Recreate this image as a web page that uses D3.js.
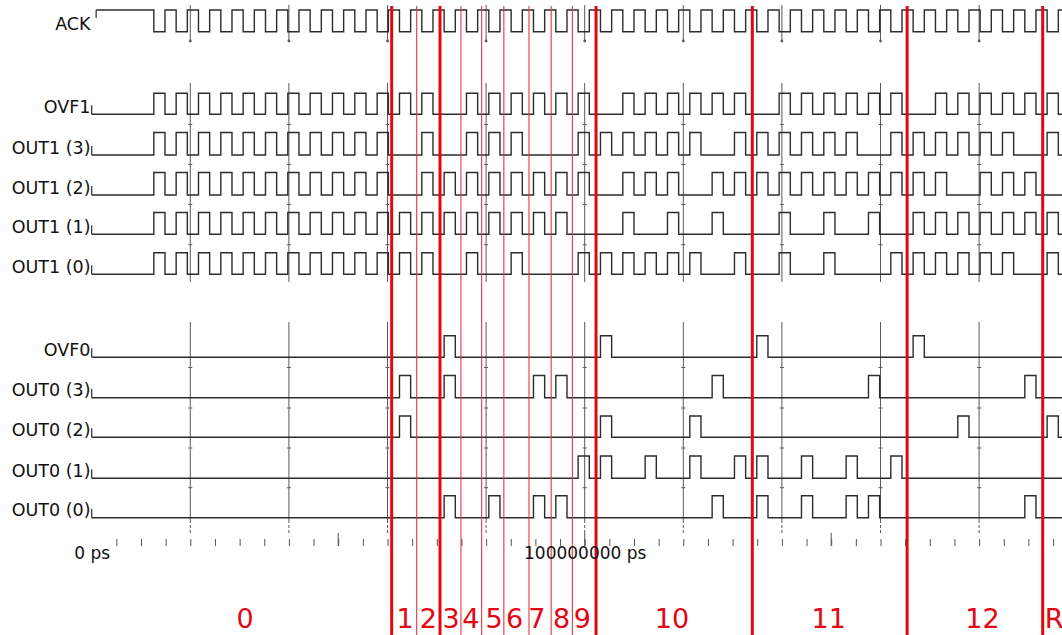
<!DOCTYPE html>
<html><head><meta charset="utf-8">
<script src="https://cdn.jsdelivr.net/npm/d3@7"></script>
<style>
html,body{margin:0;padding:0;background:#fff;}
svg{display:block;font-family:"DejaVu Sans",sans-serif;}
</style></head><body>
<svg id="chart" width="1062" height="635"></svg>
<script>
// ---------------- data ----------------
const signalNames = ["ACK","OVF1","OUT1 (3)","OUT1 (2)","OUT1 (1)","OUT1 (0)","OVF0","OUT0 (3)","OUT0 (2)","OUT0 (1)","OUT0 (0)"];
const clockStartUs = 12.6;     // first clock cycle (µs)
const clockPeriodUs = 4.53;    // clock period (µs)
const ackStartUs = 0.9;
// one character per clock cycle (cycles 0..40); '1' = pulse in that cycle
const ackCycles  = "11111111111111111111111111111111111111111";
const ovf1Cycles = "1111111111"+"1110111111"+"0111111011"+"1111011111"+"1";
const out13Cycles= "1111111111"+"1010111001"+"1111101111"+"1101111110"+"1";
const out12Cycles= "1111111111"+"1011111111"+"0111011111"+"1111110111"+"0";
const out11Cycles= "1111111111"+"1111111110"+"0101010010"+"1010111111"+"1";
const out10Cycles= "1111111111"+"1110101001"+"1111101010"+"1001111110"+"1";
const ovf0Cycles = "0000000000"+"0001000000"+"1000000100"+"0000100000"+"0";
const out03Cycles= "0000000000"+"0101000110"+"0000010000"+"0010000001"+"0";
const out02Cycles= "0000000000"+"0100000000"+"1000100000"+"0000001000"+"1";
const out01Cycles= "0000000000"+"0000000001"+"1010101101"+"0101000000"+"0";
const out00Cycles= "0000000000"+"0001010110"+"0000010101"+"0110000001"+"0";
const signalCycles = [ackCycles, ovf1Cycles, out13Cycles, out12Cycles, out11Cycles, out10Cycles,
                      ovf0Cycles, out03Cycles, out02Cycles, out01Cycles, out00Cycles];

const gridUs = [20,40,60,80,100,120,140,160,180];
const minorTickUs = d3.range(5, 200, 5);
const bigTickUs = [50,100,150];
const axisLabelUs = [0,100];

const markerThickUs = [60.85, 70.65, 102.3, 134.0, 165.4, 192.9];
const markerThinUs  = [65.92, 74.9, 79.1, 83.6, 88.7, 93.2, 97.5];
const segmentLabels = ["0","1","2","3","4","5","6","7","8","9","10","11","12"];
const segmentLabelUs = [31.1, 63.55, 68.3, 72.9, 76.9, 81.6, 85.8, 90.3, 95.3, 99.5, 117.7, 149.5, 180.7];
const lastLabel = "R", lastLabelUs = 193.3;

// ---------------- layout ----------------
const svg = d3.select("#chart");
const W = 1062, H = 635;
const x = d3.scaleLinear().domain([0, 200]).range([91.7, 91.7 + 4.93*200]);
const rowHigh = [10, 93.3, 132.5, 172.5, 212.5, 252.7, 335.7, 375.5, 416, 456, 495.7];
const rowLow  = [31.7, 114.3, 155, 195, 234.3, 274.3, 357.3, 397.7, 437.3, 478.3, 517.7];
const tEnd = x.invert(W + 10);

svg.append("defs").append("clipPath").attr("id","clip")
  .append("rect").attr("x",0).attr("y",0).attr("width",W).attr("height",H);
const root = svg.append("g").attr("clip-path","url(#clip)");

// grid lines per group
const gridColor = "#5a5a5a";
const groups = [
  {top:5, bottom:41, rows:[0], dot:true},
  {top:83, bottom:282, rows:[1,2,3,4,5]},
  {top:322, bottom:520, rows:[6,7,8,9,10], dashTo:534}
];
groups.forEach(g => {
  const gg = root.append("g");
  gg.selectAll("line.grid").data(gridUs).join("line")
    .attr("x1", d => x(d)).attr("x2", d => x(d))
    .attr("y1", g.top).attr("y2", g.bottom)
    .attr("stroke", gridColor).attr("stroke-width", 1);
  if (g.dot) {
    gg.selectAll("circle").data(gridUs).join("circle")
      .attr("cx", d => x(d)).attr("cy", g.bottom).attr("r", 1.4).attr("fill", gridColor);
  }
  if (g.dashTo) {
    gg.selectAll("line.dash").data(gridUs).join("line")
      .attr("x1", d => x(d)).attr("x2", d => x(d))
      .attr("y1", g.bottom).attr("y2", g.dashTo)
      .attr("stroke", gridColor).attr("stroke-width", 1).attr("stroke-dasharray","3,2");
  }
  g.rows.slice(1).forEach(r => {
    gg.selectAll("line.tk"+r).data(gridUs).join("line")
      .attr("x1", d => x(d) - 2).attr("x2", d => x(d) + 2)
      .attr("y1", rowHigh[r] - 8).attr("y2", rowHigh[r] - 8)
      .attr("stroke", gridColor).attr("stroke-width", 1);
  });
});

// signals
const sigColor = "#2c2c2c";
signalCycles.forEach((s, i) => {
  const y = d3.scaleLinear().domain([0,1]).range([rowLow[i], rowHigh[i]]);
  const pts = [];
  if (i === 0) {
    pts.push([ackStartUs, 1]);
    s.split("").forEach((ch, c) => {
      const t = clockStartUs + c*clockPeriodUs;
      if (ch === "1") { pts.push([t, 0]); pts.push([t + clockPeriodUs/2, 1]); }
    });
    pts.push([tEnd, 1]);
  } else {
    pts.push([0, 0]);
    s.split("").forEach((ch, c) => {
      const t = clockStartUs + c*clockPeriodUs;
      if (ch === "1") { pts.push([t, 1]); pts.push([t + clockPeriodUs/2, 0]); }
    });
    pts.push([tEnd, 0]);
  }
  const line = d3.line().x(d => x(d[0])).y(d => y(d[1])).curve(d3.curveStepAfter);
  root.append("path").attr("d", line(pts)).attr("fill","none")
    .attr("stroke", sigColor).attr("stroke-width", 1.4);
  const sx = x(pts[0][0]);
  const ys = i === 0 ? [rowHigh[i] + 8, rowHigh[i]] : [rowLow[i] - 9, rowLow[i]];
  root.append("line").attr("x1", sx).attr("x2", sx).attr("y1", ys[0]).attr("y2", ys[1])
    .attr("stroke", sigColor).attr("stroke-width", 1.2);
  svg.append("text").attr("x", 90.5).attr("y", rowLow[i] - 1.3)
    .attr("text-anchor","end").attr("font-size", 17.5).attr("fill","#111")
    .text(signalNames[i]);
});

// time axis
const axisY = 539;
const minorAxis = d3.axisBottom(x).tickValues(minorTickUs).tickSize(7).tickFormat("");
const ga = svg.append("g").attr("transform", `translate(0,${axisY})`).call(minorAxis);
ga.select(".domain").remove();
ga.selectAll(".tick line").attr("stroke", "#555").attr("stroke-width", 1);
svg.append("g").selectAll("line").data(bigTickUs).join("line")
  .attr("x1", d => x(d)).attr("x2", d => x(d)).attr("y1", 533).attr("y2", 546)
  .attr("stroke", "#555").attr("stroke-width", 1);
const labelAxis = d3.axisBottom(x).tickValues(axisLabelUs).tickSize(0).tickPadding(0)
  .tickFormat(d => d3.format("d")(d*1e6) + " ps");
const gl = svg.append("g").attr("transform", `translate(0,${axisY})`).call(labelAxis);
gl.select(".domain").remove();
gl.selectAll("text").attr("font-family", '"DejaVu Sans",sans-serif').attr("font-size", 17)
  .attr("fill","#111").attr("dy", null).attr("y", 20);

// red markers
const red = "#e30613";
root.selectAll("line.thin").data(markerThinUs).join("line")
  .attr("x1", d => x(d)).attr("x2", d => x(d)).attr("y1", 6).attr("y2", H)
  .attr("stroke", "#e2383f").attr("stroke-width", 1.1);
root.selectAll("line.thick").data(markerThickUs).join("line")
  .attr("x1", d => x(d)).attr("x2", d => x(d)).attr("y1", 6).attr("y2", H)
  .attr("stroke", red).attr("stroke-width", 3);
svg.selectAll("text.seg").data(segmentLabels).join("text")
  .attr("x", (d, i) => x(segmentLabelUs[i])).attr("y", 628)
  .attr("text-anchor","middle").attr("font-size", 27).attr("fill", red).text(d => d);
svg.append("text").attr("x", x(lastLabelUs)).attr("y", 628)
  .attr("font-size", 27).attr("fill", red).text(lastLabel);
</script>
</body></html>
